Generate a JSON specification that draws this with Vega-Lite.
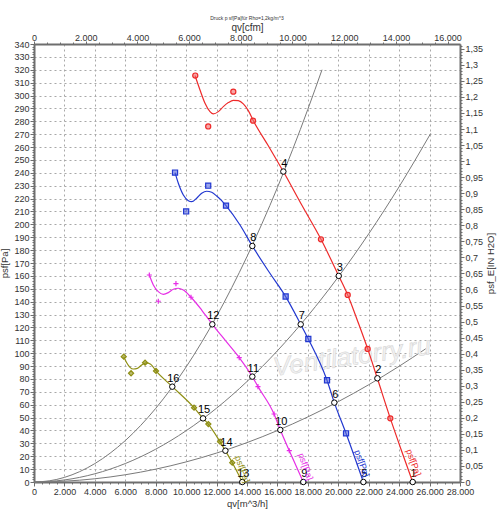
{
  "$schema": "https://vega.github.io/schema/vega-lite/v6.json",
  "width": 426,
  "height": 438,
  "autosize": "none",
  "padding": {"left": 34, "top": 44, "right": 40, "bottom": 33},
  "title": {
    "text": "Druck p sf[Pa]für Rho=1,2kg/m^3",
    "fontSize": 5,
    "fontWeight": "normal",
    "font": "Liberation Sans",
    "color": "#333",
    "offset": 1
  },
  "datasets": {
    "curves": [
      {"s": "A", "qv": 10582, "p": 315.5}, {"s": "A", "qv": 10911, "p": 304.3},
      {"s": "A", "qv": 11240, "p": 294}, {"s": "A", "qv": 11568, "p": 287.5},
      {"s": "A", "qv": 11787, "p": 285.7}, {"s": "A", "qv": 12116, "p": 287.5},
      {"s": "A", "qv": 12444, "p": 291.4}, {"s": "A", "qv": 12773, "p": 294.5},
      {"s": "A", "qv": 13101, "p": 296.3}, {"s": "A", "qv": 13430, "p": 296},
      {"s": "A", "qv": 13758, "p": 293.5}, {"s": "A", "qv": 14087, "p": 288.3},
      {"s": "A", "qv": 14415, "p": 280.5}, {"s": "A", "qv": 15400, "p": 261},
      {"s": "A", "qv": 16388, "p": 241}, {"s": "A", "qv": 17600, "p": 215},
      {"s": "A", "qv": 18864, "p": 188.4}, {"s": "A", "qv": 20027, "p": 160},
      {"s": "A", "qv": 20619, "p": 145.2}, {"s": "A", "qv": 21300, "p": 124},
      {"s": "A", "qv": 21933, "p": 103.3}, {"s": "A", "qv": 22566, "p": 80.5},
      {"s": "A", "qv": 23420, "p": 49.4}, {"s": "A", "qv": 24150, "p": 24.5},
      {"s": "A", "qv": 24890, "p": 0},
      {"s": "B", "qv": 9268, "p": 240.2}, {"s": "B", "qv": 9487, "p": 231.9},
      {"s": "B", "qv": 9815, "p": 222.8}, {"s": "B", "qv": 10144, "p": 218.4},
      {"s": "B", "qv": 10363, "p": 217.6}, {"s": "B", "qv": 10692, "p": 220.3},
      {"s": "B", "qv": 11021, "p": 224.1}, {"s": "B", "qv": 11350, "p": 225.7},
      {"s": "B", "qv": 11679, "p": 224.9}, {"s": "B", "qv": 12007, "p": 222},
      {"s": "B", "qv": 12336, "p": 218.4}, {"s": "B", "qv": 12620, "p": 214.5},
      {"s": "B", "qv": 13540, "p": 199.5}, {"s": "B", "qv": 14350, "p": 183.2},
      {"s": "B", "qv": 15450, "p": 163}, {"s": "B", "qv": 16543, "p": 143.9},
      {"s": "B", "qv": 17530, "p": 122.4}, {"s": "B", "qv": 18030, "p": 111},
      {"s": "B", "qv": 19258, "p": 79}, {"s": "B", "qv": 19740, "p": 61.6},
      {"s": "B", "qv": 20507, "p": 37.8}, {"s": "B", "qv": 21647, "p": 0},
      {"s": "C", "qv": 7580, "p": 160.7}, {"s": "C", "qv": 7843, "p": 153},
      {"s": "C", "qv": 8170, "p": 147.8}, {"s": "C", "qv": 8500, "p": 145.7},
      {"s": "C", "qv": 8828, "p": 147}, {"s": "C", "qv": 9157, "p": 149.6},
      {"s": "C", "qv": 9487, "p": 150.4}, {"s": "C", "qv": 9815, "p": 149},
      {"s": "C", "qv": 10320, "p": 143.4}, {"s": "C", "qv": 11021, "p": 133.5},
      {"s": "C", "qv": 11720, "p": 122.4}, {"s": "C", "qv": 12600, "p": 109.5},
      {"s": "C", "qv": 13494, "p": 96.5}, {"s": "C", "qv": 14350, "p": 81.8},
      {"s": "C", "qv": 14723, "p": 74}, {"s": "C", "qv": 15775, "p": 52.8},
      {"s": "C", "qv": 16190, "p": 40.4}, {"s": "C", "qv": 16782, "p": 24.3},
      {"s": "C", "qv": 17700, "p": 0},
      {"s": "D", "qv": 5896, "p": 97.3}, {"s": "D", "qv": 6093, "p": 92.6},
      {"s": "D", "qv": 6310, "p": 89}, {"s": "D", "qv": 6530, "p": 87.7},
      {"s": "D", "qv": 6793, "p": 88.2}, {"s": "D", "qv": 7078, "p": 90.8},
      {"s": "D", "qv": 7362, "p": 92.4}, {"s": "D", "qv": 7670, "p": 91.4},
      {"s": "D", "qv": 8019, "p": 86.2}, {"s": "D", "qv": 9092, "p": 74},
      {"s": "D", "qv": 10517, "p": 57.7}, {"s": "D", "qv": 11108, "p": 49.4},
      {"s": "D", "qv": 11457, "p": 45}, {"s": "D", "qv": 12225, "p": 31.3},
      {"s": "D", "qv": 12576, "p": 24.3}, {"s": "D", "qv": 13034, "p": 15},
      {"s": "D", "qv": 13692, "p": 0}
    ],
    "markers": [
      {"s": "A", "qv": 10600, "p": 315.5}, {"s": "A", "qv": 11450, "p": 276},
      {"s": "A", "qv": 13100, "p": 303}, {"s": "A", "qv": 14400, "p": 280.5},
      {"s": "A", "qv": 18860, "p": 188.4}, {"s": "A", "qv": 20620, "p": 145.2},
      {"s": "A", "qv": 21930, "p": 103.3}, {"s": "A", "qv": 23420, "p": 49.4},
      {"s": "B", "qv": 9270, "p": 240.2}, {"s": "B", "qv": 10000, "p": 210},
      {"s": "B", "qv": 11450, "p": 230}, {"s": "B", "qv": 12620, "p": 214.5},
      {"s": "B", "qv": 16540, "p": 144}, {"s": "B", "qv": 18030, "p": 111},
      {"s": "B", "qv": 19260, "p": 79}, {"s": "B", "qv": 20510, "p": 37.8},
      {"s": "C", "qv": 7580, "p": 160.7}, {"s": "C", "qv": 8170, "p": 140.3},
      {"s": "C", "qv": 9330, "p": 154}, {"s": "C", "qv": 10320, "p": 143.4},
      {"s": "C", "qv": 13490, "p": 96.5}, {"s": "C", "qv": 14720, "p": 74},
      {"s": "C", "qv": 15780, "p": 52.8}, {"s": "C", "qv": 16780, "p": 24.3},
      {"s": "D", "qv": 5900, "p": 97.3}, {"s": "D", "qv": 6380, "p": 84.4},
      {"s": "D", "qv": 7300, "p": 92.6}, {"s": "D", "qv": 8020, "p": 86.2},
      {"s": "D", "qv": 10520, "p": 57.7}, {"s": "D", "qv": 11460, "p": 45},
      {"s": "D", "qv": 12230, "p": 31.3}, {"s": "D", "qv": 13030, "p": 15}
    ],
    "ops": [
      {"n": "1", "qv": 24890, "p": 0}, {"n": "2", "qv": 22570, "p": 80.5},
      {"n": "3", "qv": 20030, "p": 160}, {"n": "4", "qv": 16390, "p": 241},
      {"n": "5", "qv": 21650, "p": 0}, {"n": "6", "qv": 19740, "p": 61.6},
      {"n": "7", "qv": 17530, "p": 122.4}, {"n": "8", "qv": 14350, "p": 183.2},
      {"n": "9", "qv": 17700, "p": 0}, {"n": "10", "qv": 16190, "p": 40.4},
      {"n": "11", "qv": 14350, "p": 81.8}, {"n": "12", "qv": 11720, "p": 122.4},
      {"n": "13", "qv": 13690, "p": 0}, {"n": "14", "qv": 12580, "p": 24.3},
      {"n": "15", "qv": 11110, "p": 49.4}, {"n": "16", "qv": 9090, "p": 74}
    ],
    "system": [
      {"k": "a", "qv": 0, "p": 0}, {"k": "a", "qv": 1000, "p": 0.89},
      {"k": "a", "qv": 2000, "p": 3.57}, {"k": "a", "qv": 3000, "p": 8.04},
      {"k": "a", "qv": 4000, "p": 14.29}, {"k": "a", "qv": 5000, "p": 22.33},
      {"k": "a", "qv": 6000, "p": 32.15}, {"k": "a", "qv": 7000, "p": 43.76},
      {"k": "a", "qv": 8000, "p": 57.15}, {"k": "a", "qv": 9000, "p": 72.33},
      {"k": "a", "qv": 10000, "p": 89.3}, {"k": "a", "qv": 11000, "p": 108.05},
      {"k": "a", "qv": 12000, "p": 128.59}, {"k": "a", "qv": 13000, "p": 150.92},
      {"k": "a", "qv": 14000, "p": 175.03}, {"k": "a", "qv": 15000, "p": 200.93},
      {"k": "a", "qv": 16000, "p": 228.61}, {"k": "a", "qv": 17000, "p": 258.08},
      {"k": "a", "qv": 18000, "p": 289.33}, {"k": "a", "qv": 18930, "p": 320},
      {"k": "b", "qv": 0, "p": 0}, {"k": "b", "qv": 2000, "p": 1.59},
      {"k": "b", "qv": 4000, "p": 6.37}, {"k": "b", "qv": 6000, "p": 14.33},
      {"k": "b", "qv": 8000, "p": 25.47}, {"k": "b", "qv": 10000, "p": 39.8},
      {"k": "b", "qv": 12000, "p": 57.31}, {"k": "b", "qv": 14000, "p": 78.01},
      {"k": "b", "qv": 16000, "p": 101.89}, {"k": "b", "qv": 18000, "p": 128.95},
      {"k": "b", "qv": 20000, "p": 159.2}, {"k": "b", "qv": 22000, "p": 192.63},
      {"k": "b", "qv": 24000, "p": 229.25}, {"k": "b", "qv": 26075, "p": 270.6},
      {"k": "c", "qv": 0, "p": 0}, {"k": "c", "qv": 2000, "p": 0.62},
      {"k": "c", "qv": 4000, "p": 2.5}, {"k": "c", "qv": 6000, "p": 5.62},
      {"k": "c", "qv": 8000, "p": 9.98}, {"k": "c", "qv": 10000, "p": 15.6},
      {"k": "c", "qv": 12000, "p": 22.46}, {"k": "c", "qv": 14000, "p": 30.58},
      {"k": "c", "qv": 16000, "p": 39.94}, {"k": "c", "qv": 18000, "p": 50.54},
      {"k": "c", "qv": 20000, "p": 62.4}, {"k": "c", "qv": 22000, "p": 75.5},
      {"k": "c", "qv": 24000, "p": 89.86}, {"k": "c", "qv": 25745, "p": 103.4}
    ],
    "curvelabels": [
      {"s": "A", "qv": 24950, "p": 15, "t": "psf[Pa]"},
      {"s": "B", "qv": 21550, "p": 14.5, "t": "psf[Pa]"},
      {"s": "C", "qv": 17850, "p": 12, "t": "psf[Pa]"},
      {"s": "D", "qv": 13700, "p": 10, "t": "psf[Pa]"}
    ]
  },
  "layer": [
    {
      "encoding": {
        "x": {
          "field": "qv",
          "type": "quantitative",
          "scale": {"domain": [0, 28000], "nice": false},
          "axis": {
            "orient": "bottom",
            "title": "qv[m^3/h]",
            "tickCount": 56,
            "labelFlush": false,
            "labelOverlap": false,
            "labelExpr": "datum.value % 2000 === 0 ? replace(format(datum.value, ',d'), ',', '.') : ''",
            "tickSize": {"condition": {"test": "datum.value % 2000 === 0", "value": 4}, "value": 2},
            "gridOpacity": {"condition": {"test": "datum.value % 2000 === 0", "value": 1}, "value": 0}
          }
        },
        "y": {
          "field": "p",
          "type": "quantitative",
          "scale": {"domain": [0, 340], "nice": false},
          "axis": {
            "orient": "left",
            "title": "psf[Pa]",
            "titlePadding": 4,
            "tickCount": 170,
            "labelFlush": false,
            "labelOverlap": false,
            "labelExpr": "datum.value % 10 === 0 ? datum.label : ''",
            "tickSize": {"condition": {"test": "datum.value % 10 === 0", "value": 4}, "value": 2},
            "gridOpacity": {"condition": {"test": "datum.value % 10 === 0", "value": 1}, "value": 0}
          }
        }
      },
      "layer": [
        {
          "data": {"name": "system"},
          "mark": {"type": "line", "color": "#7a7a7a", "strokeWidth": 1, "interpolate": "monotone"},
          "encoding": {"detail": {"field": "k"}}
        },
        {
          "data": {"values": [{"qv": 20900, "p": 97, "t": "Ventilatorry.ru"}]},
          "mark": {
            "type": "text",
            "font": "Liberation Sans",
            "fontSize": 26,
            "fontStyle": "italic",
            "angle": -8,
            "fill": "#f2f2f2",
            "stroke": "#d8d8d8",
            "strokeWidth": 0.6
          },
          "encoding": {"text": {"field": "t"}}
        },
        {
          "data": {"name": "curves"},
          "mark": {"type": "line", "strokeWidth": 1.2, "interpolate": "monotone"},
          "encoding": {
            "color": {
              "field": "s",
              "type": "nominal",
              "scale": {"domain": ["A", "B", "C", "D"], "range": ["#ee2a2a", "#2238d0", "#e62ee6", "#8f8f14"]},
              "legend": null
            }
          }
        },
        {
          "data": {"name": "markers"},
          "mark": {"type": "point", "filled": false, "strokeWidth": 1.2, "size": 26, "fillOpacity": 0.6, "opacity": 1},
          "encoding": {
            "color": {
              "field": "s",
              "type": "nominal",
              "scale": {"domain": ["A", "B", "C", "D"], "range": ["#ee2a2a", "#2238d0", "#e62ee6", "#8f8f14"]},
              "legend": null
            },
            "fill": {
              "field": "s",
              "type": "nominal",
              "scale": {"domain": ["A", "B", "C", "D"], "range": ["#f06a6a", "#5566e0", "#e62ee6", "#8f8f14"]},
              "legend": null
            },
            "shape": {
              "field": "s",
              "type": "nominal",
              "scale": {"domain": ["A", "B", "C", "D"], "range": ["circle", "square", "M-1,0L1,0M0,-1L0,1", "diamond"]},
              "legend": null
            }
          }
        },
        {
          "data": {"name": "ops"},
          "mark": {"type": "point", "shape": "circle", "filled": true, "fill": "white", "stroke": "black", "strokeWidth": 1, "size": 30, "opacity": 1}
        },
        {
          "data": {"name": "ops"},
          "mark": {"type": "text", "font": "Liberation Sans", "fontSize": 11, "color": "black", "dy": -8, "dx": 1},
          "encoding": {"text": {"field": "n"}}
        },
        {
          "data": {"name": "curvelabels"},
          "mark": {"type": "text", "font": "Liberation Sans", "fontSize": 9, "angle": 70},
          "encoding": {
            "text": {"field": "t"},
            "color": {
              "field": "s",
              "type": "nominal",
              "scale": {"domain": ["A", "B", "C", "D"], "range": ["#ee2a2a", "#2238d0", "#e62ee6", "#8f8f14"]},
              "legend": null
            }
          }
        }
      ]
    },
    {
      "data": {"values": [{"c": 0, "h": 0}, {"c": 16480, "h": 1.365}]},
      "mark": {"type": "point", "opacity": 0},
      "encoding": {
        "x": {
          "field": "c",
          "type": "quantitative",
          "scale": {"domain": [0, 16480], "nice": false},
          "axis": {
            "orient": "top",
            "title": "qv[cfm]",
            "titleFontSize": 10,
            "titlePadding": 1,
            "labelPadding": -1,
            "grid": false,
            "tickCount": 33,
            "labelFlush": false,
            "labelOverlap": false,
            "labelExpr": "datum.value % 2000 === 0 ? replace(format(datum.value, ',d'), ',', '.') : ''",
            "tickSize": {"condition": {"test": "datum.value % 2000 === 0", "value": 3}, "value": 2}
          }
        },
        "y": {
          "field": "h",
          "type": "quantitative",
          "scale": {"domain": [0, 1.365], "nice": false},
          "axis": {
            "orient": "right",
            "title": "psf_E[IN H2O]",
            "titleAngle": 270,
            "titleBaseline": "top",
            "titlePadding": 3,
            "grid": false,
            "tickCount": 136,
            "labelFlush": false,
            "labelOverlap": false,
            "labelExpr": "abs(datum.value * 20 - round(datum.value * 20)) < 0.001 ? replace(format(datum.value, '.2~f'), '.', ',') : ''",
            "tickSize": {"condition": {"test": "abs(datum.value * 20 - round(datum.value * 20)) < 0.001", "value": 4}, "value": 2}
          }
        }
      }
    }
  ],
  "resolve": {"scale": {"x": "independent", "y": "independent"}},
  "config": {
    "view": {"stroke": null},
    "axis": {
      "labelFont": "Liberation Sans",
      "labelFontSize": 9,
      "labelColor": "#333",
      "labelPadding": 1,
      "titleFont": "Liberation Sans",
      "titleFontSize": 9.5,
      "titleFontWeight": "normal",
      "titleColor": "#333",
      "titlePadding": 2,
      "domainColor": "#6e6e6e",
      "domainWidth": 2,
      "tickColor": "#6e6e6e",
      "gridColor": "#a8a8a8",
      "gridDash": [2, 3],
      "gridWidth": 1
    }
  }
}
